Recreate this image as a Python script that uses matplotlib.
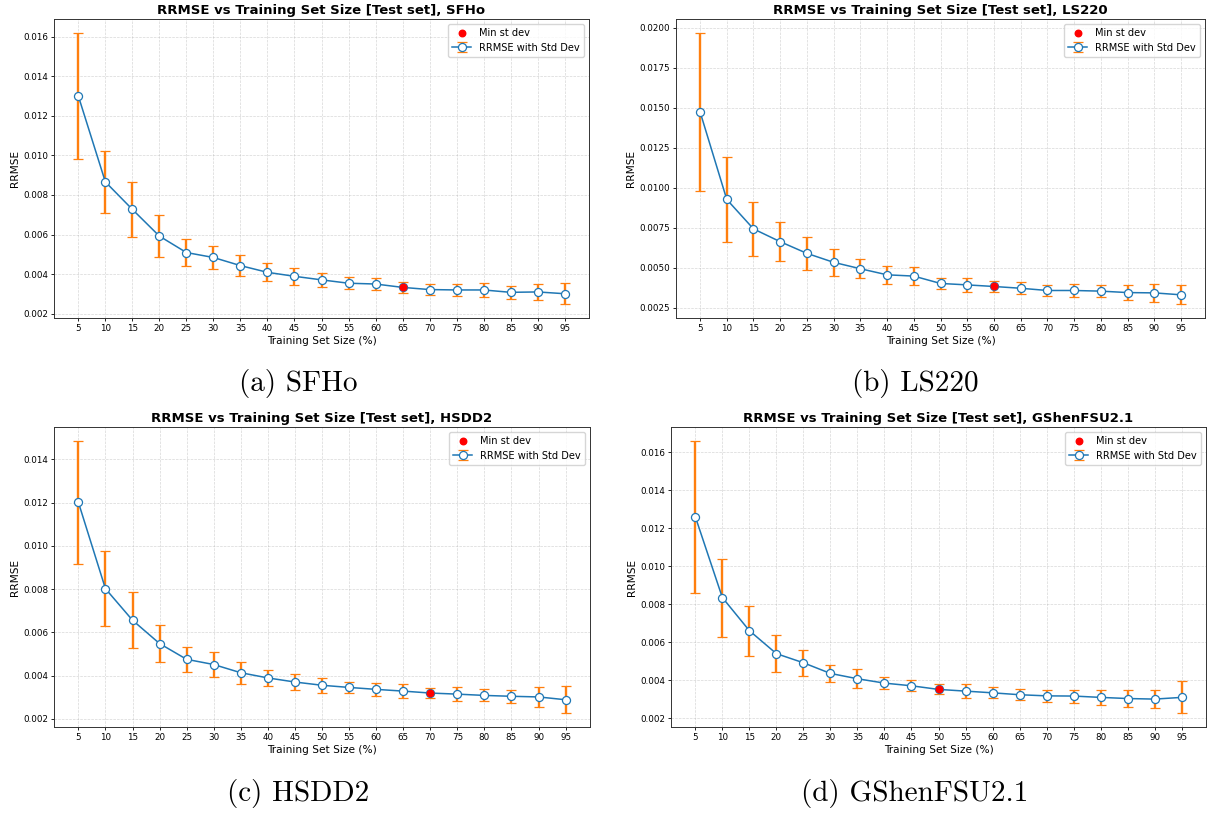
import matplotlib
matplotlib.use("Agg")
import matplotlib.pyplot as plt

# training set sizes (%)
sizes = [5, 10, 15, 20, 25, 30, 35, 40, 45, 50, 55, 60, 65, 70, 75, 80, 85, 90, 95]

# mean RRMSE on the test set and its standard deviation, one pair per EOS
sfho_rrmse = [0.01300, 0.00866, 0.00727, 0.00592, 0.00509, 0.00484, 0.00443, 0.00409, 0.00389, 0.00371,
              0.00354, 0.00350, 0.00333, 0.00322, 0.00320, 0.00320, 0.00308, 0.00310, 0.00301]
sfho_std = [0.00320, 0.00155, 0.00139, 0.00106, 0.00068, 0.00060, 0.00052, 0.00045, 0.00043, 0.00036,
            0.00030, 0.00032, 0.00026, 0.00028, 0.00029, 0.00036, 0.00034, 0.00039, 0.00054]

ls220_rrmse = [0.01474, 0.00926, 0.00742, 0.00662, 0.00589, 0.00533, 0.00493, 0.00455, 0.00447, 0.00401,
               0.00392, 0.00382, 0.00371, 0.00357, 0.00357, 0.00353, 0.00344, 0.00342, 0.00330]
ls220_std = [0.00495, 0.00268, 0.00168, 0.00120, 0.00103, 0.00085, 0.00061, 0.00055, 0.00057, 0.00036,
             0.00042, 0.00033, 0.00036, 0.00034, 0.00038, 0.00038, 0.00046, 0.00058, 0.00060]

hsdd2_rrmse = [0.01202, 0.00802, 0.00656, 0.00548, 0.00475, 0.00451, 0.00413, 0.00389, 0.00370, 0.00355,
               0.00345, 0.00336, 0.00328, 0.00319, 0.00314, 0.00308, 0.00304, 0.00301, 0.00288]
hsdd2_std = [0.00285, 0.00175, 0.00129, 0.00085, 0.00058, 0.00057, 0.00051, 0.00038, 0.00037, 0.00034,
             0.00027, 0.00031, 0.00033, 0.00024, 0.00032, 0.00028, 0.00030, 0.00045, 0.00063]

gshen_rrmse = [0.01261, 0.00836, 0.00662, 0.00541, 0.00493, 0.00437, 0.00409, 0.00386, 0.00372, 0.00353,
               0.00344, 0.00335, 0.00325, 0.00319, 0.00318, 0.00311, 0.00305, 0.00302, 0.00311]
gshen_std = [0.00400, 0.00205, 0.00132, 0.00098, 0.00068, 0.00044, 0.00049, 0.00032, 0.00028, 0.00026,
             0.00036, 0.00028, 0.00030, 0.00033, 0.00034, 0.00038, 0.00046, 0.00046, 0.00084]

eos_names = ["SFHo", "LS220", "HSDD2", "GShenFSU2.1"]
captions = ["(a) SFHo", "(b) LS220", "(c) HSDD2", "(d) GShenFSU2.1"]

# small panels, so shrink ticks and spines to go with the text
plt.rcParams.update({
    'xtick.labelsize': 6.3, 'ytick.labelsize': 6.3,
    'xtick.major.size': 2.1, 'ytick.major.size': 2.1,
    'xtick.major.pad': 2.1, 'ytick.major.pad': 2.1,
    'xtick.major.width': 0.6, 'ytick.major.width': 0.6,
    'axes.linewidth': 0.7, 'axes.edgecolor': '#333333',
    'grid.linewidth': 0.5,
})

W, H = 1208, 814
fig = plt.figure(figsize=(W / 100, H / 100), dpi=100)

# axes boxes in pixels: left, top, right, bottom
boxes = [(54, 19, 589, 318), (676, 19, 1205, 318), (54, 427, 590, 727), (671, 427, 1206, 727)]
caption_pos = [(298, 383), (915, 383), (298, 793), (915, 793)]

data = [(sfho_rrmse, sfho_std), (ls220_rrmse, ls220_std), (hsdd2_rrmse, hsdd2_std), (gshen_rrmse, gshen_std)]

for i, (rrmse, std) in enumerate(data):
    l, t, r, b = boxes[i]
    ax = fig.add_axes([l / W, 1 - b / H, (r - l) / W, (b - t) / H])

    ax.errorbar(sizes, rrmse, yerr=std, fmt='-o', color='C0', markerfacecolor='white',
                markeredgecolor='C0', markersize=5.8, markeredgewidth=0.9, linewidth=1.1,
                ecolor='C1', elinewidth=1.7, capsize=3.8, capthick=1.7,
                label='RRMSE with Std Dev')

    # point with the smallest spread
    k = std.index(min(std))
    ax.scatter(sizes[k], rrmse[k], color='red', s=22, zorder=5, label='Min st dev')

    ax.set_xticks(sizes)
    ax.set_title(f'RRMSE vs Training Set Size [Test set], {eos_names[i]}',
                 fontsize=9.5, fontweight='bold', pad=3.5)
    ax.set_xlabel('Training Set Size (%)', fontsize=7.6, labelpad=2.4)
    ax.set_ylabel('RRMSE', fontsize=7.6, labelpad=2.4)
    ax.grid(True, linestyle='--', alpha=0.5)
    ax.legend(loc='upper right', fontsize=7.1)

    cx, cy = caption_pos[i]
    fig.text(cx / W, 1 - cy / H, captions[i], family='cmr10', fontsize=21,
             ha='center', va='center')

fig.savefig('out.png', dpi=100)
